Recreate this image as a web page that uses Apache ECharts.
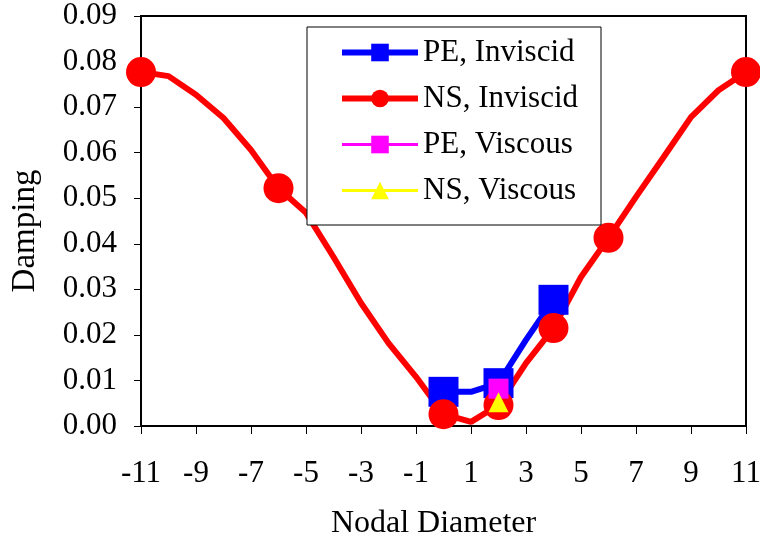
<!DOCTYPE html>
<html>
<head>
<meta charset="utf-8">
<script src="https://cdn.jsdelivr.net/npm/echarts@6/dist/echarts.min.js"></script>
<style>
  html, body { margin: 0; padding: 0; background: #fff; }
  #chart { width: 760px; height: 541px; }
</style>
</head>
<body>
<div id="chart"></div>
<script>
// Nodal diameters along the red curve
const nodalDiameter = [-11, -10, -9, -8, -7, -6, -5, -4, -3, -2, -1, 0, 1, 2, 3, 4, 5, 6, 7, 8, 9, 10, 11];
const nsInviscid = [0.0777, 0.0768, 0.0727, 0.0676, 0.0606, 0.0522, 0.0468, 0.0371, 0.0270, 0.0182, 0.0108,
                    0.0026, 0.0009, 0.0046, 0.0138, 0.0215, 0.0327, 0.0413, 0.0503, 0.0590, 0.0678, 0.0737, 0.0777];
// Nodal diameters that carry a marker on the red curve
const nsInviscidMarked = [-11, -6, 0, 2, 4, 6, 11];

const peInviscidND = [0, 1, 2, 3, 4];
const peInviscid = [0.0075, 0.0075, 0.0094, 0.0189, 0.0277];
const peInviscidMarked = [0, 2, 4];

const viscousND = [2];
const peViscous = [0.0082];
const nsViscous = [0.0052];

const seriesNames = ['PE, Inviscid', 'NS, Inviscid', 'PE, Viscous', 'NS, Viscous'];
const yTickDecimals = 2;

function pairs(xs, ys, marked) {
  return xs.map((x, i) => {
    const item = { value: [x, ys[i]] };
    if (marked && marked.indexOf(x) < 0) item.symbol = 'none';
    return item;
  });
}

const font = 'Liberation Serif, Times New Roman, serif';
const lineWidths = [6, 6, 3, 3];
const chart = echarts.init(document.getElementById('chart'));

chart.setOption({
  animation: false,
  backgroundColor: '#fff',
  grid: {
    left: 141, right: 14, top: 16, bottom: 115,
    outerBoundsMode: 'none',
    show: true, borderColor: '#000', borderWidth: 2, backgroundColor: 'transparent'
  },
  legend: {
    orient: 'vertical',
    left: 307, top: 27,
    data: seriesNames.map((n, i) => ({ name: n, lineStyle: { width: lineWidths[i] } })),
    itemWidth: 76, itemHeight: 22, itemGap: 15,
    padding: [10, 23, 19, 32],
    borderColor: '#000', borderWidth: 1,
    backgroundColor: '#fff',
    textStyle: { fontFamily: font, fontSize: 31, color: '#000' }
  },
  xAxis: {
    type: 'value',
    min: -11, max: 11, interval: 2,
    name: 'Nodal Diameter',
    nameLocation: 'middle', nameGap: 82,
    nameTextStyle: { fontFamily: font, fontSize: 32, color: '#000', padding: [0, 20, 0, 0] },
    axisLine: { show: true, onZero: false, lineStyle: { color: '#000', width: 2 } },
    axisTick: { show: true, inside: false, length: 8, lineStyle: { color: '#000', width: 1 } },
    axisLabel: { fontFamily: font, fontSize: 31, color: '#000', margin: 32 },
    splitLine: { show: false }
  },
  yAxis: {
    type: 'value',
    min: 0, max: 0.09, interval: 0.01,
    name: 'Damping',
    nameLocation: 'middle', nameGap: 99, nameRotate: 90,
    nameTextStyle: { fontFamily: font, fontSize: 33, color: '#000', padding: [0, 20, 0, 0] },
    axisLine: { show: true, onZero: false, lineStyle: { color: '#000', width: 2 } },
    axisTick: { show: true, inside: false, length: 7, lineStyle: { color: '#000', width: 1 } },
    axisLabel: {
      fontFamily: font, fontSize: 31, color: '#000', margin: 24,
      formatter: v => v.toFixed(yTickDecimals)
    },
    splitLine: { show: false }
  },
  series: [
    {
      name: seriesNames[0], type: 'line',
      symbol: 'rect', symbolSize: 30,
      lineStyle: { color: '#0000ff', width: lineWidths[0] },
      itemStyle: { color: '#0000ff' },
      data: pairs(peInviscidND, peInviscid, peInviscidMarked)
    },
    {
      name: seriesNames[1], type: 'line',
      symbol: 'circle', symbolSize: 30,
      lineStyle: { color: '#ff0000', width: lineWidths[1] },
      itemStyle: { color: '#ff0000' },
      data: pairs(nodalDiameter, nsInviscid, nsInviscidMarked)
    },
    {
      name: seriesNames[2], type: 'line',
      symbol: 'rect', symbolSize: 20,
      lineStyle: { color: '#ff00ff', width: lineWidths[2] },
      itemStyle: { color: '#ff00ff' },
      data: pairs(viscousND, peViscous)
    },
    {
      name: seriesNames[3], type: 'line',
      symbol: 'triangle', symbolSize: 20,
      lineStyle: { color: '#ffff00', width: lineWidths[3] },
      itemStyle: { color: '#ffff00' },
      data: pairs(viscousND, nsViscous)
    }
  ]
});
</script>
</body>
</html>
